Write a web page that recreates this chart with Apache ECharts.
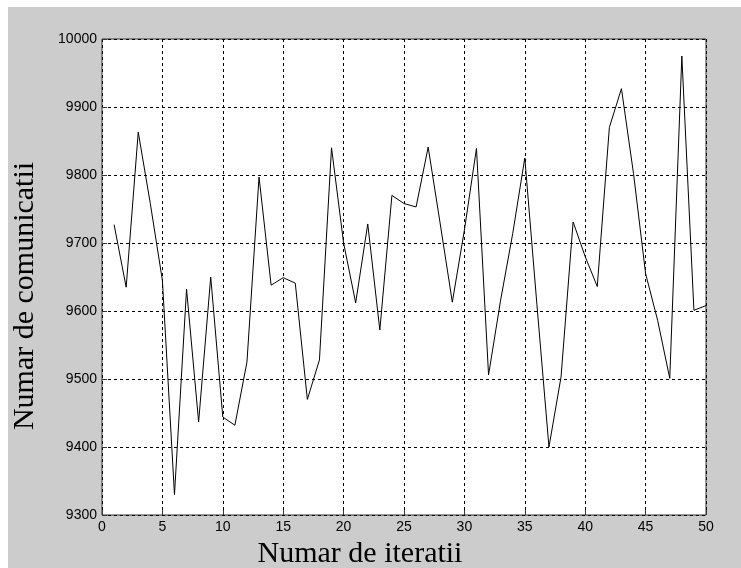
<!DOCTYPE html>
<html><head><meta charset="utf-8">
<script src="https://cdn.jsdelivr.net/npm/echarts@6/dist/echarts.min.js"></script>
<style>html,body{margin:0;padding:0;background:#fff}#c{width:741px;height:568px}</style>
</head><body><div id="c"></div>
<script>
const iterations = [1,2,3,4,5,6,7,8,9,10,11,12,13,14,15,16,17,18,19,20,21,22,23,24,25,26,27,28,29,30,31,32,33,34,35,36,37,38,39,40,41,42,43,44,45,46,47,48,49,50];
const communications = [9727,9635,9863,9758,9645,9330,9632,9437,9650,9444,9432,9525,9797,9638,9649,9641,9470,9528,9840,9700,9612,9728,9572,9770,9758,9753,9841,9728,9613,9719,9839,9506,9616,9714,9825,9610,9400,9503,9731,9680,9636,9870,9927,9802,9655,9586,9501,9975,9601,9608];
const xTicks = [0,5,10,15,20,25,30,35,40,45,50];
const yTicks = [9300,9400,9500,9600,9700,9800,9900,10000];
const xTitle = 'Numar de iteratii';
const yTitle = 'Numar de comunicatii';

const chart = echarts.init(document.getElementById('c'), null, {renderer:'canvas'});
const gridLine = {show:true, lineStyle:{color:'#000', type:[3,3], width:1}};
chart.setOption({
  animation:false,
  backgroundColor:'#fff',
  graphic:[
    {type:'rect', z:-10, shape:{x:8, y:7, width:733, height:561}, style:{fill:'#cccccc'}},
    {type:'text', x:360, y:554, style:{text:xTitle, font:'30px "Liberation Serif"', fill:'#000', textAlign:'center', textVerticalAlign:'middle'}},
    {type:'text', x:25, y:296, rotation:Math.PI/2, style:{text:yTitle, font:'30px "Liberation Serif"', fill:'#000', textAlign:'center', textVerticalAlign:'middle'}}
  ],
  grid:{left:102, right:35, top:39, bottom:53, show:true, backgroundColor:'#fff', borderColor:'#333', borderWidth:1},
  xAxis:{type:'value', min:xTicks[0], max:xTicks[xTicks.length-1], interval:5,
    axisLine:{show:false}, axisTick:{show:true, inside:true, length:5, lineStyle:{color:'#333'}},
    axisLabel:{color:'#000', fontFamily:'Liberation Sans', fontSize:14, margin:5, formatter:v=>String(v)},
    splitLine:gridLine},
  yAxis:{type:'value', min:yTicks[0], max:yTicks[yTicks.length-1], interval:100,
    axisLine:{show:false}, axisTick:{show:true, inside:true, length:5, lineStyle:{color:'#333'}},
    axisLabel:{color:'#000', fontFamily:'Liberation Sans', fontSize:14, margin:5, formatter:v=>String(v)},
    splitLine:gridLine},
  series:[{type:'line', data:iterations.map((x,i)=>[x,communications[i]]), symbol:'none',
    lineStyle:{color:'#000', width:1}}]
});
</script></body></html>
